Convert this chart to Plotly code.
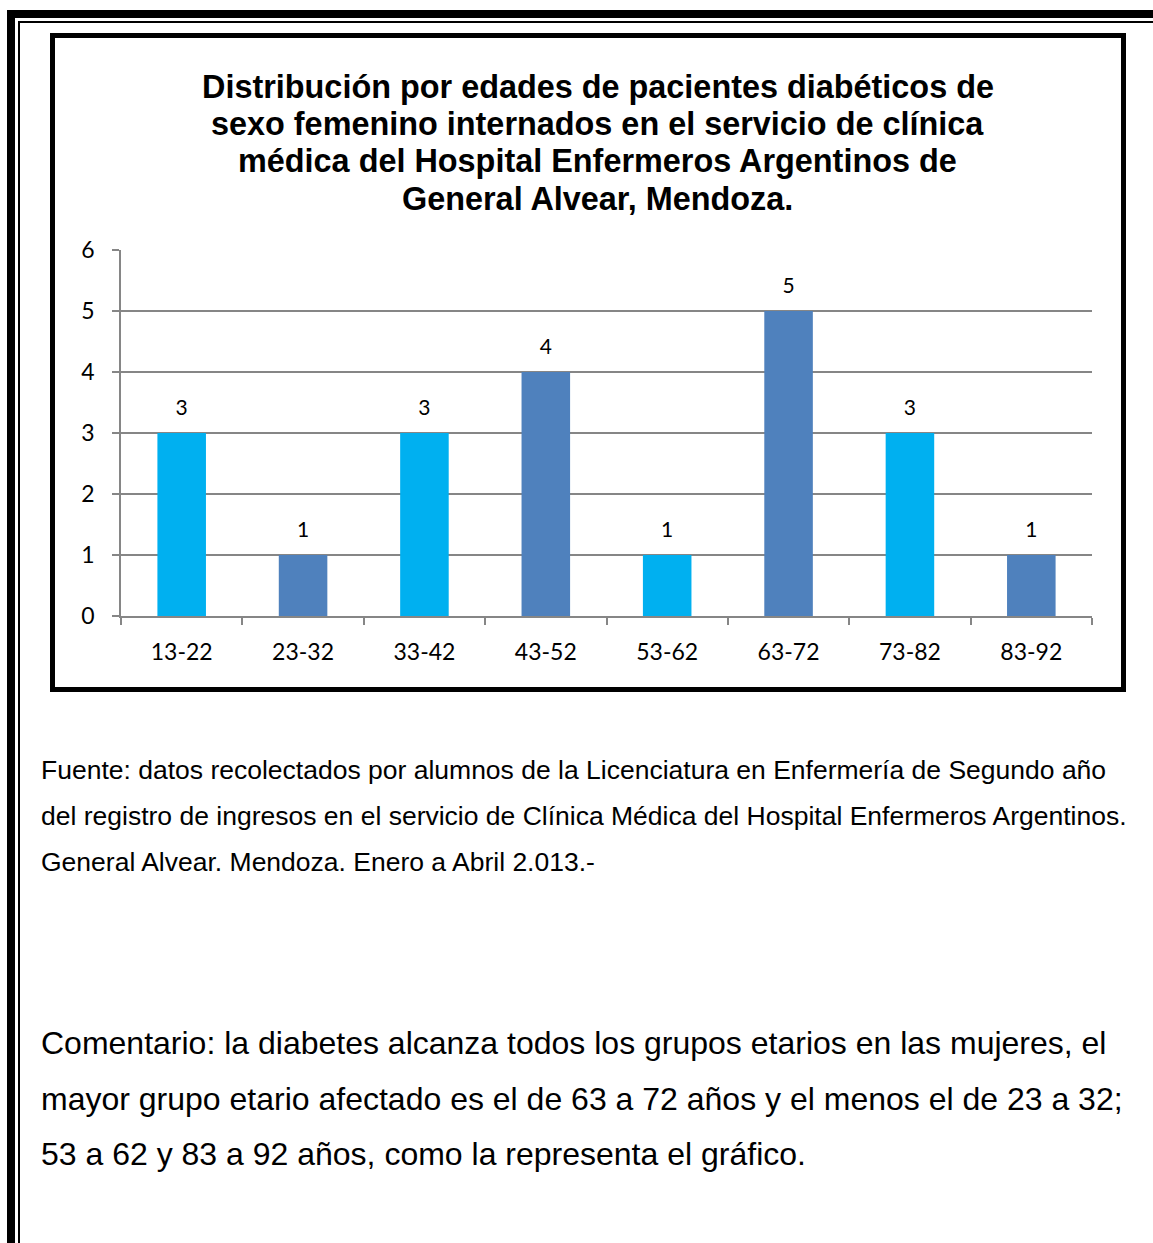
import plotly.graph_objects as go

W, H = 1153, 1243

categories = ["13-22", "23-32", "33-42", "43-52", "53-62", "63-72", "73-82", "83-92"]
values = [3, 1, 3, 4, 1, 5, 3, 1]
bar_colors = ["#00B0F0", "#4F81BD", "#00B0F0", "#4F81BD", "#00B0F0", "#4F81BD", "#00B0F0", "#4F81BD"]
y_ticks = [0, 1, 2, 3, 4, 5, 6]

title_lines = [
    "Distribución por edades de pacientes diabéticos de",
    "sexo femenino internados en el servicio de clínica",
    "médica del Hospital Enfermeros Argentinos de",
    "General Alvear, Mendoza.",
]
source_lines = [
    "Fuente: datos recolectados por alumnos de la Licenciatura en Enfermería de Segundo año",
    "del registro de ingresos en el servicio de Clínica Médica del Hospital Enfermeros Argentinos.",
    "General Alvear. Mendoza. Enero a Abril 2.013.-",
]
comment_lines = [
    "Comentario: la diabetes alcanza todos los grupos etarios en las mujeres, el",
    "mayor grupo etario afectado es el de 63 a 72 años y el menos el de 23 a 32;",
    "53 a 62 y 83 a 92 años, como la representa el gráfico.",
]


def px(x):
    return x / W


def py(y):
    return 1 - y / H


fig = go.Figure()
fig.add_trace(go.Bar(
    x=categories, y=values, marker=dict(color=bar_colors, line=dict(width=0)),
    width=0.4, hoverinfo="skip", showlegend=False,
))
fig.add_trace(go.Scatter(
    x=categories, y=values, mode="markers+text", text=[str(v) for v in values],
    textposition="top center", marker=dict(size=19, opacity=0),
    textfont=dict(family="Lato", size=21, color="#000000"),
    hoverinfo="skip", showlegend=False, cliponaxis=False,
))

grid_color = "#868686"
fig.update_layout(
    width=W, height=H, autosize=False,
    margin=dict(l=0, r=0, t=0, b=0, pad=0, autoexpand=False),
    paper_bgcolor="white", plot_bgcolor="white",
    xaxis=dict(
        domain=[px(121), px(1092)],
        type="category", tickson="boundaries", ticks="outside", ticklen=7,
        tickcolor=grid_color, tickwidth=1.5,
        showline=True, linecolor=grid_color, linewidth=1.5,
        showgrid=False, tickfont=dict(family="Lato", size=23, color="#000000"),
        ticklabelstandoff=15, fixedrange=True, automargin=False,
    ),
    yaxis=dict(
        domain=[py(616), py(250)],
        range=[0, 6], tickvals=y_ticks, ticks="outside", ticklen=7,
        tickcolor=grid_color, tickwidth=1.5,
        showline=True, linecolor=grid_color, linewidth=1.5,
        showgrid=True, gridcolor=grid_color, gridwidth=1.5, zeroline=False,
        tickfont=dict(family="Lato", size=23, color="#000000"),
        ticklabelstandoff=13, fixedrange=True, automargin=False,
    ),
    bargap=0.6,
)

annotations = []
title_y = [87, 124, 161, 199]
for line, yy in zip(title_lines, title_y):
    annotations.append(dict(
        text="<b>" + line + "</b>", x=px(598), y=py(yy), xref="paper", yref="paper",
        xanchor="center", yanchor="middle", showarrow=False,
        font=dict(family="Liberation Sans, Arial", size=32.4, color="#000000"),
    ))
for line, yy in zip(source_lines, [770, 816, 862]):
    annotations.append(dict(
        text=line, x=px(39), y=py(yy), xref="paper", yref="paper",
        xanchor="left", yanchor="middle", showarrow=False,
        font=dict(family="Liberation Sans, Arial", size=26.5, color="#000000"),
    ))
for line, yy in zip(comment_lines, [1043, 1099, 1154]):
    annotations.append(dict(
        text=line, x=px(39), y=py(yy), xref="paper", yref="paper",
        xanchor="left", yanchor="middle", showarrow=False,
        font=dict(family="Liberation Sans, Arial", size=32, color="#000000"),
    ))
fig.update_layout(annotations=annotations)

shapes = []
# outer thick page border (left + top)
shapes.append(dict(type="rect", xref="paper", yref="paper", x0=px(7), x1=px(15), y0=0, y1=py(10),
                   fillcolor="black", line=dict(width=0), layer="above"))
shapes.append(dict(type="rect", xref="paper", yref="paper", x0=px(7), x1=1, y0=py(18), y1=py(10),
                   fillcolor="black", line=dict(width=0), layer="above"))
# inner thin page border
shapes.append(dict(type="rect", xref="paper", yref="paper", x0=px(18), x1=px(20), y0=0, y1=py(21),
                   fillcolor="black", line=dict(width=0), layer="above"))
shapes.append(dict(type="rect", xref="paper", yref="paper", x0=px(18), x1=1, y0=py(23), y1=py(21),
                   fillcolor="black", line=dict(width=0), layer="above"))
# chart frame
shapes.append(dict(type="rect", xref="paper", yref="paper", x0=px(52.5), x1=px(1123.5), y0=py(689.5), y1=py(35.5),
                   line=dict(color="black", width=5), fillcolor="rgba(0,0,0,0)", layer="above"))
fig.update_layout(shapes=shapes)

fig.write_html("out.html", config={"displayModeBar": False, "responsive": False},
               post_script="document.body.style.margin='0';document.body.style.overflow='hidden';")
